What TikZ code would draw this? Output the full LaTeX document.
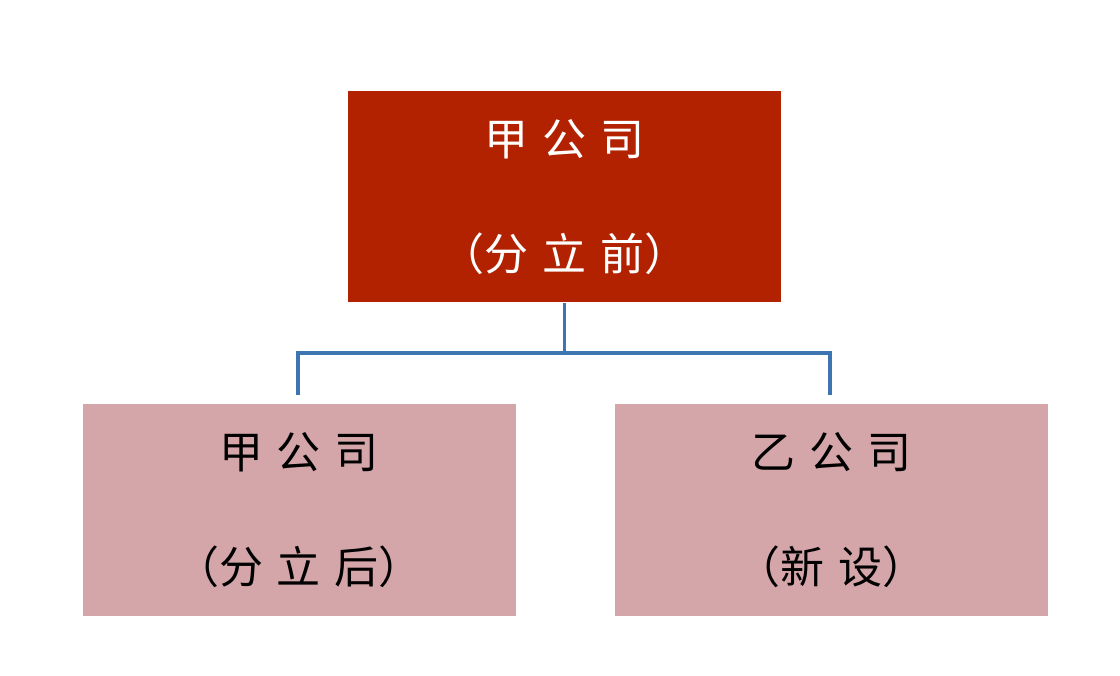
\documentclass[tikz,border=0pt]{standalone}
\usepackage{fontspec}
\newfontfamily\cjk{Noto Sans CJK SC}
\definecolor{topred}{HTML}{B22200}
\definecolor{pinkbox}{HTML}{D4A6A9}
\definecolor{linkblue}{HTML}{3D74B2}
\newcommand{\cjsp}{\hspace{14pt}}
\begin{document}
\begin{tikzpicture}[x=1pt,y=-1pt,
  box/.style={minimum width=433pt,minimum height=211pt,inner sep=0pt,draw=none,align=center,font=\cjk\fontsize{44}{115}\selectfont},
  link/.style={draw=linkblue,line width=3.5pt}]
\useasboundingbox (0,0) rectangle (1120,676);
\fill[white] (0,0) rectangle (1120,676);
\node[box,fill=topred,text=white] (top) at (564.5,197) {甲\cjsp 公\cjsp 司\\（分\cjsp 立\cjsp 前）};
\node[box,fill=pinkbox,text=black] (left) at (299,510) {甲\cjsp 公\cjsp 司\\（分\cjsp 立\cjsp 后）};
\node[box,fill=pinkbox,text=black] (right) at (831.5,510) {乙\cjsp 公\cjsp 司\\（新\cjsp 设）};
\coordinate (mid) at (564.5,353);
\coordinate (lend) at (298,395);
\coordinate (rend) at (830,395);
\draw[link] (top.south) -- (mid);
\draw[link] (lend) |- (mid) -| (rend);
\end{tikzpicture}
\end{document}
